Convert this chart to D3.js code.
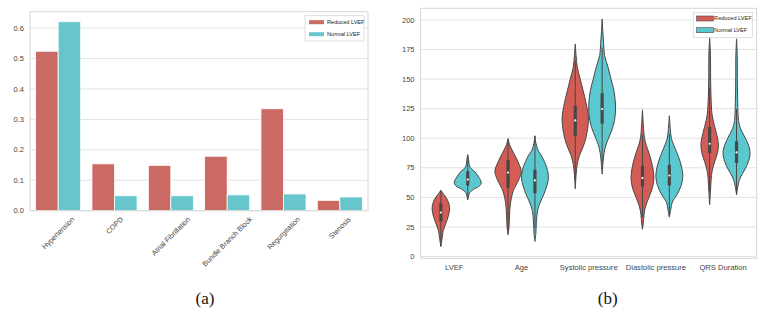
<!DOCTYPE html>
<html>
<head>
<meta charset="utf-8">
<script src="https://cdn.jsdelivr.net/npm/d3@7"></script>
<style>
  body { margin: 0; background: #fff; }
  text { font-family: 'Liberation Sans', Arial, sans-serif; fill: #444; }
  .cap { font-family: 'Liberation Serif', 'Times New Roman', serif; fill: #111; font-size: 17px; }
</style>
</head>
<body>
<div id="chart"></div>
<script>
// panel (a): comorbidity rates
var barCategories = ['Hypertension', 'COPD', 'Atrial Fibrillation', 'Bundle Branch Block', 'Regurgitation', 'Stenosis']
var reducedRates = [0.524, 0.154, 0.149, 0.179, 0.335, 0.034]
var normalRates = [0.621, 0.049, 0.049, 0.052, 0.055, 0.045]
var barTicks = [0, 0.1, 0.2, 0.3, 0.4, 0.5, 0.6]
var groups = ['Reduced LVEF', 'Normal LVEF']

// panel (b): violin profiles, [value, relative width]
var violinCategories = ['LVEF', 'Age', 'Systolic pressure', 'Diastolic pressure', 'QRS Duration']
var violinTicks = [0, 25, 50, 75, 100, 125, 150, 175, 200]
var reducedProfiles = [
  [[8.5, 0], [12, 0.05], [17, 0.11], [22, 0.18], [28, 0.37], [34, 0.55], [40, 0.65], [45, 0.59], [50, 0.38], [53, 0.18], [56, 0]],
  [[18.4, 0], [25, 0.07], [35, 0.11], [45, 0.18], [55, 0.37], [65, 0.8], [72, 0.98], [80, 0.74], [90, 0.3], [95, 0.1], [99.6, 0]],
  [[57.3, 0], [70, 0.07], [78, 0.15], [85, 0.3], [95, 0.66], [105, 0.88], [117, 0.98], [130, 0.8], [140, 0.59], [150, 0.37], [160, 0.15], [170, 0.06], [179.7, 0]],
  [[23, 0], [28, 0.06], [35, 0.11], [42, 0.22], [50, 0.48], [58, 0.74], [66, 0.85], [75, 0.77], [85, 0.55], [95, 0.26], [100, 0.15], [110, 0.07], [124, 0]],
  [[43.7, 0], [55, 0.06], [65, 0.11], [72, 0.18], [80, 0.37], [88, 0.59], [94, 0.65], [100, 0.59], [110, 0.37], [120, 0.18], [135, 0.1], [150, 0.07], [170, 0.06], [184.7, 0]]
]
var normalProfiles = [
  [[48, 0], [51, 0.06], [54, 0.15], [57, 0.45], [59, 0.8], [61, 0.97], [63, 1], [66, 0.88], [69, 0.7], [72, 0.5], [75, 0.2], [78, 0.1], [82, 0.06], [86, 0]],
  [[12.7, 0], [20, 0.07], [30, 0.11], [40, 0.22], [45, 0.37], [55, 0.74], [66, 1], [75, 0.88], [85, 0.5], [90, 0.22], [96, 0.07], [102, 0]],
  [[69.7, 0], [80, 0.07], [88, 0.15], [95, 0.3], [105, 0.66], [115, 0.92], [127, 1], [140, 0.88], [150, 0.66], [160, 0.44], [170, 0.18], [180, 0.11], [190, 0.05], [200.8, 0]],
  [[33.3, 0], [40, 0.11], [46, 0.22], [52, 0.55], [60, 0.88], [69, 1], [80, 0.81], [88, 0.55], [95, 0.3], [100, 0.15], [108, 0.07], [119, 0]],
  [[52.2, 0], [60, 0.11], [65, 0.22], [70, 0.44], [78, 0.81], [86, 1], [92, 0.95], [100, 0.66], [108, 0.3], [115, 0.15], [130, 0.09], [150, 0.06], [170, 0.05], [184, 0]]
]
// [q1, median, q3]
var reducedBoxes = [[29.6, 37.2, 45], [57.9, 71, 81.8], [102, 115, 127.5], [59.2, 66.3, 76.7], [87.5, 95.3, 109.5]]
var normalBoxes = [[60, 65, 72], [53.6, 64.3, 73.4], [112.3, 124.7, 138], [60.1, 68.5, 77.6], [79, 88, 97.3]]

var barColors = ['#cb6a63', '#66c6cc']
var violinColors = ['#d35c55', '#5bc8d0']
var gridColor = '#e2e2e2'

var svg = d3.select('#chart')
  .append('svg')
  .attr('width', 769)
  .attr('height', 316)

// ---------- panel (a) ----------
var ga = svg.append('g')
var xa = d3.scaleBand().domain(barCategories).range([30, 368]).paddingInner(0.2).paddingOuter(0.1)
var xsa = d3.scaleBand().domain(groups).range([0, xa.bandwidth()])
var ya = d3.scaleLinear().domain([0, 0.654]).range([210.7, 11.7])

ga.selectAll('line.grid')
  .data(barTicks)
  .enter()
  .append('line')
  .attr('class', 'grid')
  .attr('x1', 30).attr('x2', 368)
  .attr('y1', (d) => ya(d)).attr('y2', (d) => ya(d))
  .attr('stroke', gridColor)
  .attr('stroke-width', 1)

ga.selectAll('text.ytick')
  .data(barTicks)
  .enter()
  .append('text')
  .attr('class', 'ytick')
  .attr('x', 24)
  .attr('y', (d) => ya(d))
  .attr('dy', '0.35em')
  .attr('text-anchor', 'end')
  .style('font-size', '7.5px')
  .text((d) => d3.format('.1f')(d))

var barSeries = [reducedRates, normalRates]
barSeries.forEach((vals, gi) => {
  ga.selectAll('rect.bar' + gi)
    .data(vals)
    .enter()
    .append('rect')
    .attr('class', 'bar' + gi)
    .attr('x', (d, i) => xa(barCategories[i]) + xsa(groups[gi]))
    .attr('width', xsa.bandwidth())
    .attr('y', (d) => ya(d))
    .attr('height', (d) => ya(0) - ya(d))
    .attr('fill', barColors[gi])
    .attr('stroke', '#fff')
    .attr('stroke-width', 0.8)
})

ga.append('rect')
  .attr('x', 30).attr('y', 11.7)
  .attr('width', 338).attr('height', 199)
  .attr('fill', 'none')
  .attr('stroke', '#d6d6d6')
  .attr('stroke-width', 1)

// rotated labels, centred under the tick like matplotlib
ga.selectAll('text.xtick')
  .data(barCategories)
  .enter()
  .append('text')
  .attr('class', 'xtick')
  .attr('text-anchor', 'middle')
  .attr('dominant-baseline', 'central')
  .style('font-size', '7.2px')
  .text((d) => d)
  .each(function (d) {
    var L = this.getComputedTextLength()
    var s = (L + 7) / Math.SQRT2
    var cx = xa(d) + xa.bandwidth() / 2
    var cy = 215.5 + s / 2
    d3.select(this).attr('transform', 'translate(' + cx + ',' + cy + ') rotate(-45)')
  })

var lega = ga.append('g').attr('transform', 'translate(305,15.7)')
lega.append('rect')
  .attr('width', 59).attr('height', 25.3)
  .attr('fill', '#fff')
  .attr('stroke', '#d6d6d6')
  .attr('stroke-width', 0.8)
groups.forEach((g, i) => {
  lega.append('rect')
    .attr('x', 4).attr('y', 4.5 + i * 12)
    .attr('width', 15).attr('height', 4)
    .attr('fill', barColors[i])
  lega.append('text')
    .attr('x', 22).attr('y', 6.5 + i * 12)
    .attr('dy', '0.35em')
    .style('font-size', '5.6px')
    .style('fill', '#222')
    .text(g)
})

svg.append('text').attr('class', 'cap')
  .attr('x', 205).attr('y', 304)
  .attr('text-anchor', 'middle')
  .text('(a)')

// ---------- panel (b) ----------
var gb = svg.append('g')
var xb = d3.scaleBand().domain(violinCategories).range([420.7, 756.7]).paddingInner(0.2).paddingOuter(0.1)
var xsb = d3.scaleBand().domain(groups).range([0, xb.bandwidth()])
var yb = d3.scaleLinear().domain([-1.5, 209.8]).range([258.3, 8.3])
var wb = d3.scaleLinear().domain([0, 1]).range([0, xsb.bandwidth() / 2])

gb.selectAll('line.grid')
  .data(violinTicks)
  .enter()
  .append('line')
  .attr('class', 'grid')
  .attr('x1', 420.7).attr('x2', 756.7)
  .attr('y1', (d) => yb(d)).attr('y2', (d) => yb(d))
  .attr('stroke', gridColor)
  .attr('stroke-width', 1)

gb.selectAll('text.ytick')
  .data(violinTicks)
  .enter()
  .append('text')
  .attr('class', 'ytick')
  .attr('x', 414.5)
  .attr('y', (d) => yb(d))
  .attr('dy', '0.35em')
  .attr('text-anchor', 'end')
  .style('font-size', '7.5px')
  .text((d) => d)

gb.append('rect')
  .attr('x', 420.7).attr('y', 8.3)
  .attr('width', 336).attr('height', 250)
  .attr('fill', 'none')
  .attr('stroke', '#d6d6d6')
  .attr('stroke-width', 1)

var profiles = [reducedProfiles, normalProfiles]
var boxes = [reducedBoxes, normalBoxes]
violinCategories.forEach((cat, ci) => {
  groups.forEach((g, gi) => {
    var cx = xb(cat) + xsb(g) + xsb.bandwidth() / 2
    var prof = profiles[gi][ci]
    var area = d3.area()
      .curve(d3.curveCatmullRom)
      .y((d) => yb(d[0]))
      .x0((d) => cx - wb(d[1]))
      .x1((d) => cx + wb(d[1]))
    gb.append('path')
      .datum(prof)
      .attr('d', area)
      .attr('fill', violinColors[gi])
      .attr('stroke', '#474747')
      .attr('stroke-width', 1)

    var b = boxes[gi][ci]
    var iqr = b[2] - b[0]
    var lo = Math.max(prof[0][0], b[0] - 1.5 * iqr)
    var hi = Math.min(prof[prof.length - 1][0], b[2] + 1.5 * iqr)
    gb.append('line')
      .attr('x1', cx).attr('x2', cx)
      .attr('y1', yb(lo)).attr('y2', yb(hi))
      .attr('stroke', '#474747')
      .attr('stroke-width', 1)
    gb.append('line')
      .attr('x1', cx).attr('x2', cx)
      .attr('y1', yb(b[0])).attr('y2', yb(b[2]))
      .attr('stroke', '#474747')
      .attr('stroke-width', 3.2)
    gb.append('circle')
      .attr('cx', cx).attr('cy', yb(b[1]))
      .attr('r', 1.1)
      .attr('fill', '#fff')
  })
})

gb.selectAll('text.xtick')
  .data(violinCategories)
  .enter()
  .append('text')
  .attr('class', 'xtick')
  .attr('x', (d) => xb(d) + xb.bandwidth() / 2)
  .attr('y', 270)
  .attr('text-anchor', 'middle')
  .style('font-size', '7.6px')
  .text((d) => d)

var legb = gb.append('g').attr('transform', 'translate(693.3,12.3)')
legb.append('rect')
  .attr('width', 59).attr('height', 25.4)
  .attr('fill', '#fff')
  .attr('stroke', '#d6d6d6')
  .attr('stroke-width', 0.8)
groups.forEach((g, i) => {
  legb.append('rect')
    .attr('x', 3.4).attr('y', 3.7 + i * 11.7)
    .attr('width', 16.6).attr('height', 5)
    .attr('fill', violinColors[i])
    .attr('stroke', '#474747')
    .attr('stroke-width', 0.6)
  legb.append('text')
    .attr('x', 20.8).attr('y', 6.2 + i * 11.7)
    .attr('dy', '0.35em')
    .style('font-size', '5.6px')
    .style('fill', '#222')
    .text(g)
})

svg.append('text').attr('class', 'cap')
  .attr('x', 607.7).attr('y', 304)
  .attr('text-anchor', 'middle')
  .text('(b)')
</script>
</body>
</html>
